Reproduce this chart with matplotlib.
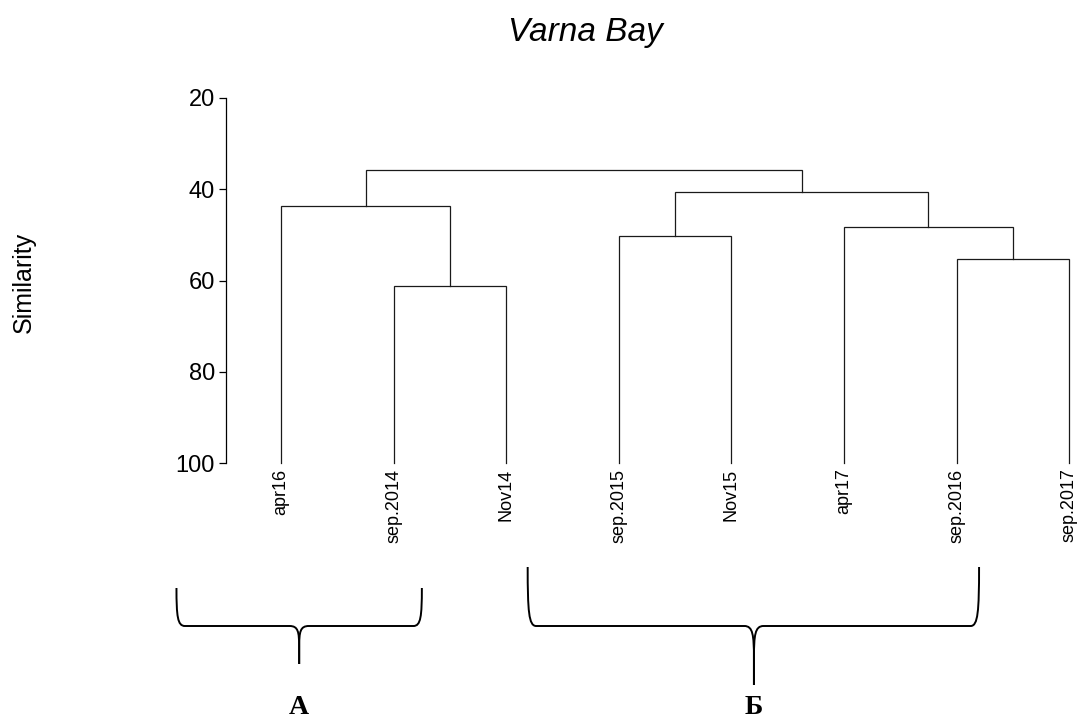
import numpy as np
import matplotlib
matplotlib.use("Agg")
import matplotlib.pyplot as plt
from matplotlib.path import Path
from matplotlib.patches import PathPatch
from matplotlib import transforms

plt.rcParams['font.family'] = ['Liberation Sans', 'DejaVu Sans']

# leaves in plotting order
leaves = ['apr16', 'sep.2014', 'Nov14', 'sep.2015', 'Nov15', 'apr17', 'sep.2016', 'sep.2017']
# merges: (left child, right child, similarity); children >= 0 are leaves, "c<k>" are clusters
merge_left = [1, 3, 6, 5, 0, 'c1', 'c4']
merge_right = [2, 4, 7, 'c2', 'c0', 'c3', 'c5']
merge_sim = [61.2, 50.2, 55.2, 48.3, 43.7, 40.5, 35.8]

yticks = [20, 40, 60, 80, 100]

# groups shown by braces under the tree
group_names = ['А', 'Б']

W, H = 1077, 718
fig = plt.figure(figsize=(W / 100, H / 100), dpi=100)
ax = fig.add_axes([226 / W, (H - 463) / H, (W - 226) / W, 365 / H])

lc = '#1a1a1a'
lw = 0.9


def node_pos(n, xs, hs):
    if isinstance(n, str):
        k = int(n[1:])
        return xs[k], hs[k]
    return float(n), 100.0


xs, hs = [], []
for l, r, s in zip(merge_left, merge_right, merge_sim):
    xl, yl = node_pos(l, xs, hs)
    xr, yr = node_pos(r, xs, hs)
    ax.plot([xl, xl, xr, xr], [yl, s, s, yr], color=lc, lw=lw,
            solid_joinstyle='miter', clip_on=False)
    xs.append((xl + xr) / 2)
    hs.append(s)

ax.set_ylim(100, 20)
ax.set_xlim(-0.49, 7.07)
ax.set_yticks(yticks)
ax.set_xticks([])
for side in ['top', 'right', 'bottom']:
    ax.spines[side].set_visible(False)
ax.spines['left'].set_bounds(20, 100)
ax.spines['left'].set_linewidth(0.9)
ax.tick_params(axis='y', length=5, width=0.9, pad=3, labelsize=17)

for i, name in enumerate(leaves):
    ax.annotate(name, (i, 100), xytext=(0, -4), textcoords='offset points',
                rotation=90, ha='center', va='top', fontsize=13)

fig.text(585 / W, 1 - 32 / H, 'Varna Bay', fontsize=24, style='italic',
         ha='center', va='center')
fig.text(24 / W, 1 - 282 / H, 'Similarity', fontsize=18, rotation=90,
         ha='center', va='center')

# braces: x in data units (leaf index), y in figure fraction
bt = transforms.blended_transform_factory(ax.transData, fig.transFigure)
spans = [(-0.93, 1.25, 0.16, 588, 664), (2.19, 6.2, 4.2, 567, 685)]
ymid_px = 626


def fy(p):
    return 1 - p / H


for (x0, x1, xm, ytop, ytip), name in zip(spans, group_names):
    yt, ym, yp = fy(ytop), fy(ymid_px), fy(ytip)
    dc = 0.075
    dm = 0.085
    codes = [Path.MOVETO, Path.CURVE4, Path.CURVE4, Path.CURVE4,
             Path.LINETO,
             Path.CURVE4, Path.CURVE4, Path.CURVE4,
             Path.LINETO]
    for xe, sg in ((x0, 1), (x1, -1)):
        v = [(xe, yt), (xe, yt + 0.75 * (ym - yt)), (xe + sg * 0.01, ym), (xe + sg * dc, ym),
             (xm - sg * dm, ym),
             (xm - sg * 0.01, ym), (xm, ym + 0.15 * (yp - ym)), (xm, ym + 0.55 * (yp - ym)),
             (xm, yp)]
        ax.add_patch(PathPatch(Path(v, codes), transform=bt, fill=False,
                               lw=1.4, color='black', clip_on=False))
    ax.text(xm, fy(707), name, transform=bt, fontsize=20, fontweight='bold',
            family=['Liberation Serif', 'DejaVu Serif'], ha='center', va='center')

fig.savefig('out.png', dpi=100)
